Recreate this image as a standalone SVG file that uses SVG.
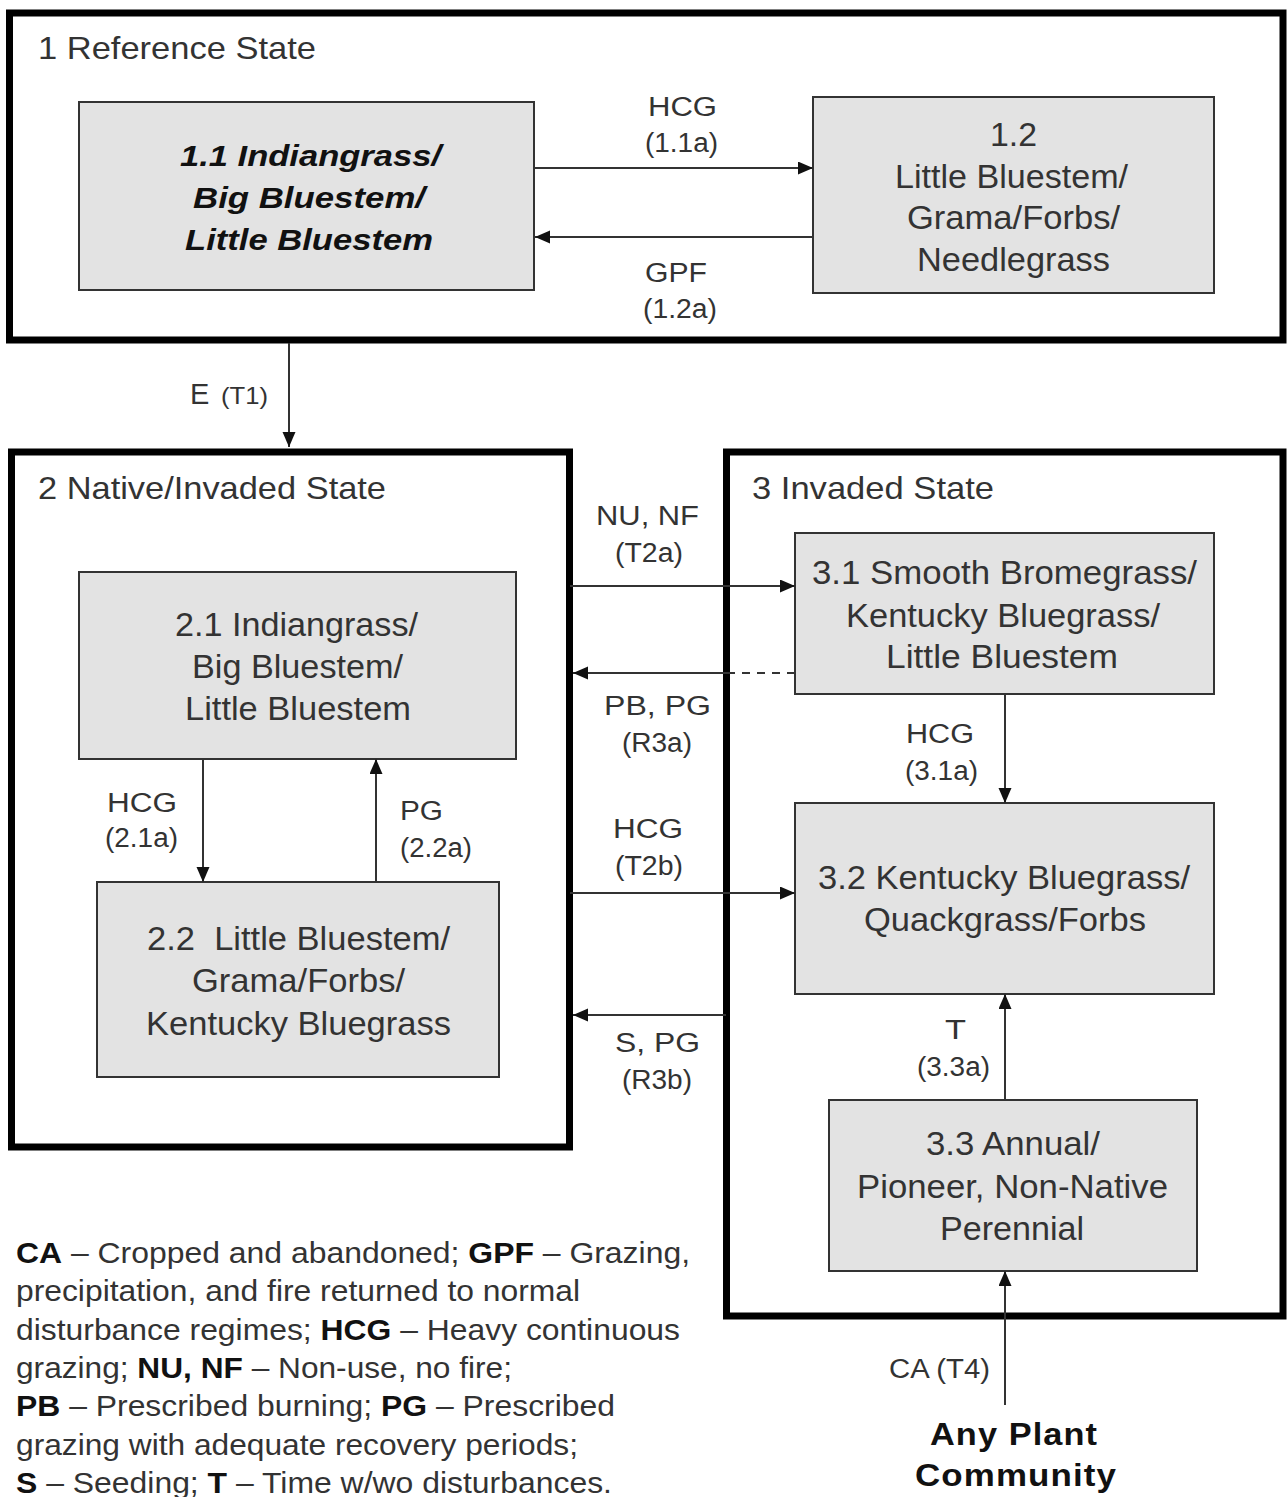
<svg xmlns="http://www.w3.org/2000/svg" width="1287" height="1497" viewBox="0 0 1287 1497">
<style>
text{font-family:"Liberation Sans",Arial,sans-serif;fill:#333}
.st{font-size:32px}
.nd{font-size:33px}
.bi{font-size:30px;font-weight:bold;font-style:italic;fill:#111}
.lb{font-size:27px}
.lg{font-size:30px}
.lg tspan.b{font-weight:bold;fill:#111}
.ap{font-size:32px;font-weight:bold;fill:#111;letter-spacing:1px}
.state{fill:none;stroke:#000;stroke-width:7}
.box{fill:#e3e3e3;stroke:#333;stroke-width:2}
.cn{fill:none;stroke:#333;stroke-width:2}
</style>
<defs>
<marker id="ah" markerUnits="userSpaceOnUse" markerWidth="16" markerHeight="14" refX="15" refY="6.5" orient="auto">
<path d="M0,0 L15,6.5 L0,13 z" fill="#111"/>
</marker>
</defs>
<rect width="1287" height="1497" fill="#fff"/>

<g id="state1">
<rect class="state" x="9.5" y="13" width="1273.5" height="327"/>
<text class="st" x="38" y="59" textLength="278" lengthAdjust="spacingAndGlyphs">1 Reference State</text>
</g>
<g id="state2">
<rect class="state" x="11.5" y="452" width="558" height="695"/>
<text class="st" x="38" y="499" textLength="348" lengthAdjust="spacingAndGlyphs">2 Native/Invaded State</text>
</g>
<g id="state3">
<rect class="state" x="726.5" y="452" width="556.5" height="864"/>
<text class="st" x="752" y="499" textLength="242" lengthAdjust="spacingAndGlyphs">3 Invaded State</text>
</g>

<g id="n11">
<rect class="box" x="79" y="102" width="455" height="188"/>
<text class="bi" x="180" y="166" textLength="261" lengthAdjust="spacingAndGlyphs">1.1 Indiangrass/</text>
<text class="bi" x="193" y="208" textLength="232" lengthAdjust="spacingAndGlyphs">Big Bluestem/</text>
<text class="bi" x="185" y="250" textLength="248" lengthAdjust="spacingAndGlyphs">Little Bluestem</text>
</g>
<g id="n12">
<rect class="box" x="813" y="97" width="401" height="196"/>
<text class="nd" x="990" y="146" textLength="47" lengthAdjust="spacingAndGlyphs">1.2</text>
<text class="nd" x="895" y="188" textLength="233" lengthAdjust="spacingAndGlyphs">Little Bluestem/</text>
<text class="nd" x="907" y="229" textLength="213" lengthAdjust="spacingAndGlyphs">Grama/Forbs/</text>
<text class="nd" x="917" y="271" textLength="193" lengthAdjust="spacingAndGlyphs">Needlegrass</text>
</g>
<g id="n21">
<rect class="box" x="79" y="572" width="437" height="187"/>
<text class="nd" x="175" y="636" textLength="243" lengthAdjust="spacingAndGlyphs">2.1 Indiangrass/</text>
<text class="nd" x="192" y="678" textLength="211" lengthAdjust="spacingAndGlyphs">Big Bluestem/</text>
<text class="nd" x="185" y="720" textLength="226" lengthAdjust="spacingAndGlyphs">Little Bluestem</text>
</g>
<g id="n22">
<rect class="box" x="97" y="882" width="402" height="195"/>
<text class="nd" x="147" y="950" textLength="303" lengthAdjust="spacingAndGlyphs" xml:space="preserve">2.2  Little Bluestem/</text>
<text class="nd" x="192" y="992" textLength="213" lengthAdjust="spacingAndGlyphs">Grama/Forbs/</text>
<text class="nd" x="146" y="1035" textLength="305" lengthAdjust="spacingAndGlyphs">Kentucky Bluegrass</text>
</g>
<g id="n31">
<rect class="box" x="795" y="533" width="419" height="161"/>
<text class="nd" x="812" y="584" textLength="385" lengthAdjust="spacingAndGlyphs">3.1 Smooth Bromegrass/</text>
<text class="nd" x="846" y="627" textLength="314" lengthAdjust="spacingAndGlyphs">Kentucky Bluegrass/</text>
<text class="nd" x="886" y="668" textLength="232" lengthAdjust="spacingAndGlyphs">Little Bluestem</text>
</g>
<g id="n32">
<rect class="box" x="795" y="803" width="419" height="191"/>
<text class="nd" x="818" y="889" textLength="372" lengthAdjust="spacingAndGlyphs">3.2 Kentucky Bluegrass/</text>
<text class="nd" x="864" y="931" textLength="282" lengthAdjust="spacingAndGlyphs">Quackgrass/Forbs</text>
</g>
<g id="n33">
<rect class="box" x="829" y="1100" width="368" height="171"/>
<text class="nd" x="926" y="1155" textLength="174" lengthAdjust="spacingAndGlyphs">3.3 Annual/</text>
<text class="nd" x="857" y="1198" textLength="311" lengthAdjust="spacingAndGlyphs">Pioneer, Non-Native</text>
<text class="nd" x="940" y="1240" textLength="144" lengthAdjust="spacingAndGlyphs">Perennial</text>
</g>
<g id="any">
<text class="ap" x="930" y="1445" textLength="168" lengthAdjust="spacingAndGlyphs">Any Plant</text>
<text class="ap" x="915" y="1486" textLength="202" lengthAdjust="spacingAndGlyphs">Community</text>
</g>

<g id="connectors">
<path class="cn" d="M534,168 H813" marker-end="url(#ah)"/>
<path class="cn" d="M813,237 H535" marker-end="url(#ah)"/>
<path class="cn" d="M289,343 V447" marker-end="url(#ah)"/>
<path class="cn" d="M570,586 H795" marker-end="url(#ah)"/>
<path class="cn" d="M795,673 H727" stroke-dasharray="8,7"/>
<path class="cn" d="M727,673 H573" marker-end="url(#ah)"/>
<path class="cn" d="M570,893 H795" marker-end="url(#ah)"/>
<path class="cn" d="M726,1015 H573" marker-end="url(#ah)"/>
<path class="cn" d="M203,759 V882" marker-end="url(#ah)"/>
<path class="cn" d="M376,882 V759" marker-end="url(#ah)"/>
<path class="cn" d="M1005,694 V803" marker-end="url(#ah)"/>
<path class="cn" d="M1005,1100 V994" marker-end="url(#ah)"/>
<path class="cn" d="M1005,1405 V1271" marker-end="url(#ah)"/>
</g>

<g id="labels">
<text class="lb" x="648" y="116" textLength="69" lengthAdjust="spacingAndGlyphs">HCG</text>
<text class="lb" x="645" y="152" textLength="73" lengthAdjust="spacingAndGlyphs">(1.1a)</text>
<text class="lb" x="645" y="282" textLength="62" lengthAdjust="spacingAndGlyphs">GPF</text>
<text class="lb" x="643" y="318" textLength="74" lengthAdjust="spacingAndGlyphs">(1.2a)</text>
<text x="190" y="404" style="font-size:29px">E</text>
<text x="221" y="404" style="font-size:24px" textLength="47" lengthAdjust="spacingAndGlyphs">(T1)</text>
<text class="lb" x="596" y="525" textLength="103" lengthAdjust="spacingAndGlyphs">NU, NF</text>
<text class="lb" x="615" y="562" textLength="68" lengthAdjust="spacingAndGlyphs">(T2a)</text>
<text class="lb" x="604" y="715" textLength="107" lengthAdjust="spacingAndGlyphs">PB, PG</text>
<text class="lb" x="622" y="752" textLength="70" lengthAdjust="spacingAndGlyphs">(R3a)</text>
<text class="lb" x="613" y="838" textLength="70" lengthAdjust="spacingAndGlyphs">HCG</text>
<text class="lb" x="615" y="875" textLength="68" lengthAdjust="spacingAndGlyphs">(T2b)</text>
<text class="lb" x="615" y="1052" textLength="85" lengthAdjust="spacingAndGlyphs">S, PG</text>
<text class="lb" x="622" y="1089" textLength="70" lengthAdjust="spacingAndGlyphs">(R3b)</text>
<text class="lb" x="107" y="812" textLength="70" lengthAdjust="spacingAndGlyphs">HCG</text>
<text class="lb" x="105" y="847" textLength="73" lengthAdjust="spacingAndGlyphs">(2.1a)</text>
<text class="lb" x="400" y="820" textLength="43" lengthAdjust="spacingAndGlyphs">PG</text>
<text class="lb" x="400" y="857" textLength="72" lengthAdjust="spacingAndGlyphs">(2.2a)</text>
<text class="lb" x="906" y="743" textLength="68" lengthAdjust="spacingAndGlyphs">HCG</text>
<text class="lb" x="905" y="780" textLength="73" lengthAdjust="spacingAndGlyphs">(3.1a)</text>
<text class="lb" x="945" y="1039" textLength="21" lengthAdjust="spacingAndGlyphs">T</text>
<text class="lb" x="917" y="1076" textLength="73" lengthAdjust="spacingAndGlyphs">(3.3a)</text>
<text class="lb" x="889" y="1378" textLength="101" lengthAdjust="spacingAndGlyphs">CA (T4)</text>
</g>

<g id="legend" class="lg">
<text class="lg" x="16" y="1263" textLength="674" lengthAdjust="spacingAndGlyphs"><tspan class="b">CA</tspan> – Cropped and abandoned; <tspan class="b">GPF</tspan> – Grazing,</text>
<text class="lg" x="16" y="1301" textLength="564" lengthAdjust="spacingAndGlyphs">precipitation, and fire returned to normal</text>
<text class="lg" x="16" y="1340" textLength="664" lengthAdjust="spacingAndGlyphs">disturbance regimes; <tspan class="b">HCG</tspan> – Heavy continuous</text>
<text class="lg" x="16" y="1378" textLength="496" lengthAdjust="spacingAndGlyphs">grazing; <tspan class="b">NU, NF</tspan> – Non-use, no fire;</text>
<text class="lg" x="16" y="1416" textLength="599" lengthAdjust="spacingAndGlyphs"><tspan class="b">PB</tspan> – Prescribed burning; <tspan class="b">PG</tspan> – Prescribed</text>
<text class="lg" x="16" y="1455" textLength="562" lengthAdjust="spacingAndGlyphs">grazing with adequate recovery periods;</text>
<text class="lg" x="16" y="1493" textLength="596" lengthAdjust="spacingAndGlyphs"><tspan class="b">S</tspan> – Seeding; <tspan class="b">T</tspan> – Time w/wo disturbances.</text>
</g>
</svg>
